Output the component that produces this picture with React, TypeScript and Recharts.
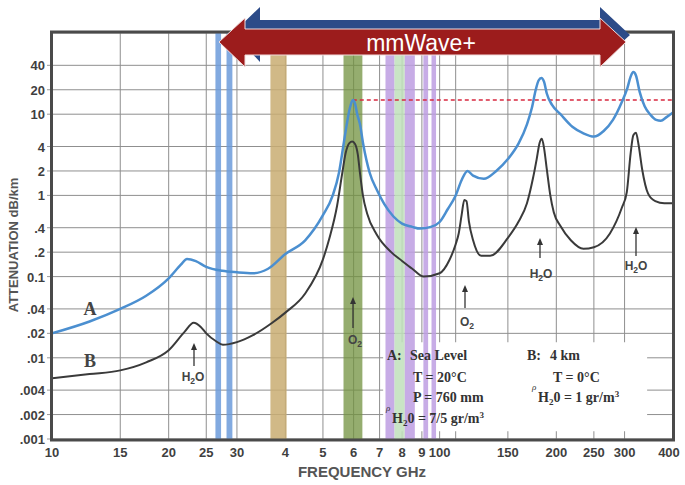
import React from "react";
import {
  LineChart,
  Line,
  XAxis,
  YAxis,
  CartesianGrid,
  ReferenceArea,
  ReferenceLine,
} from "recharts";

// axis ticks (the original labels 40..90 GHz with a single digit)
const xTicks = [10, 15, 20, 25, 30, 40, 50, 60, 70, 80, 90, 100, 110, 150, 200, 250, 300, 400];
const xTickText = ["10", "15", "20", "25", "30", "4", "5", "6", "7", "8", "9", "100", "", "150", "200", "250", "300", "400"];
const yTicks = [0.001, 0.002, 0.004, 0.01, 0.02, 0.04, 0.1, 0.2, 0.4, 1, 2, 4, 10, 20, 40];
const yTickText = [".001", ".002", ".004", ".01", ".02", ".04", "0.1", ".2", ".4", "1", "2", "4", "10", "20", "40"];

// A: sea level
const seaLevelFreq = [
  10, 12.5, 15, 17.5, 20, 21.5, 22.3, 23.5, 25, 27.5, 30, 33, 36, 40, 45, 50, 53, 55, 56.5, 57.6,
  58.7, 59.7, 60.5, 61.3, 62.3, 63.5, 66, 69, 72, 76, 80, 85, 89, 95, 100, 105, 110, 114, 118, 122,
  130, 140, 150, 160, 168, 173, 177, 180, 183, 186, 189, 195, 205, 220, 235, 250, 265, 280, 295, 305,
  311, 316, 321, 328, 338, 350, 362, 372, 385, 400,
];
const seaLevelDb = [
  0.02, 0.028, 0.04, 0.058, 0.095, 0.14, 0.165, 0.155, 0.132, 0.118, 0.113, 0.11, 0.124, 0.19, 0.28, 0.57, 1.0, 1.9, 4.2, 7.5,
  12, 15, 13.5, 10, 7.5, 4.3, 1.9, 1.15, 0.78, 0.55, 0.45, 0.41, 0.39, 0.41, 0.47, 0.68, 1.0, 1.55, 2.0, 1.75,
  1.6, 2.0, 2.8, 4.4, 7.5, 12, 20, 26, 28, 25, 18, 13, 10, 7, 5.8, 5.3, 6.2, 8.5, 14, 21,
  29, 33, 30, 19, 12.5, 9.8, 8.5, 8.3, 9.2, 10.5,
];

// B: 4 km
const highAltFreq = [
  10, 12.5, 15, 17.5, 20, 22, 23.2, 24.2, 25, 26.5, 27.6, 30, 33, 37, 40, 45, 50, 52, 54.4, 56,
  57.2, 58.5, 59.5, 60.5, 61.5, 62.3, 63.4, 65, 68.8, 75, 80, 85, 91, 100, 106, 110, 112, 114, 115.8, 117.3,
  119, 122, 128, 135, 150, 160, 168, 174, 178, 181, 183.5, 186, 189, 193, 197, 205, 218, 235, 250, 275,
  295, 304, 311, 316, 321, 326, 333, 345, 360, 380, 400,
];
const highAltDb = [
  0.0056, 0.0063, 0.007, 0.0088, 0.0124, 0.021, 0.027, 0.024, 0.02, 0.016, 0.0145, 0.0156, 0.019, 0.027, 0.036, 0.062, 0.163, 0.3, 0.75, 1.8,
  3.3, 4.4, 4.6, 4.3, 3.2, 1.9, 1.0, 0.6, 0.33, 0.2, 0.156, 0.125, 0.1, 0.11, 0.16, 0.25, 0.34, 0.58, 0.88, 0.85,
  0.48, 0.28, 0.18, 0.18, 0.3, 0.48, 0.8, 1.6, 2.8, 4.4, 5.0, 3.8, 2.1, 1.0, 0.62, 0.42, 0.28, 0.22, 0.23, 0.34,
  0.7, 1.1, 3.3, 5.5, 5.9, 4.2, 2.1, 1.05, 0.85, 0.8, 0.8,
];

// spectrum bands (GHz)
const bandFrom = [26.4, 28.2, 36.6, 56.5, 72.5, 76.5, 81.3, 90.8, 95.3];
const bandTo = [27.3, 29.2, 40.3, 63.2, 76.5, 81.3, 86.3, 93.4, 97.9];
const bandKind = ["blue", "blue", "tan", "olive", "purple", "green", "purple", "purple", "purple"];

const o2PeakFreq = 59.7;
const o2PeakDb = 15;

const bandFill: Record<string, string> = {
  blue: "#6c9bdb",
  tan: "#c9ad72",
  olive: "#71913f",
  purple: "#bd9de2",
  green: "#c0e0bb",
};

const sans = "'Liberation Sans', Arial, sans-serif";
const serif = "'Liberation Serif', 'DejaVu Serif', serif";

const XTick = (props: any) => {
  const { x, y, payload } = props;
  const i = xTicks.indexOf(payload.value);
  return (
    <text x={Math.min(x, 669)} y={y + 18} textAnchor="middle" fontFamily={sans} fontWeight="bold" fontSize={13} fill="#3f3f3f">
      {xTickText[i]}
    </text>
  );
};

const YTick = (props: any) => {
  const { x, y, payload } = props;
  const i = yTicks.indexOf(payload.value);
  return (
    <text x={x} y={y + 5} textAnchor="end" fontFamily={sans} fontWeight="bold" fontSize={13} fill="#3f3f3f">
      {yTickText[i]}
    </text>
  );
};

function Pointer({ x, tip, tail }: { x: number; tip: number; tail: number }) {
  return (
    <g>
      <line x1={x} y1={tail} x2={x} y2={tip + 5} stroke="#333" strokeWidth={1.3} />
      <polygon points={`${x},${tip} ${x - 3},${tip + 7} ${x + 3},${tip + 7}`} fill="#333" />
    </g>
  );
}

function Molecule({ x, y, base, sub, tail }: { x: number; y: number; base: string; sub: string; tail?: string }) {
  return (
    <text x={x} y={y} textAnchor="middle" fontFamily={sans} fontWeight="bold" fontSize={12} fill="#444">
      {base}
      <tspan fontSize={8.5} dy={3}>{sub}</tspan>
      {tail ? <tspan dy={-3}>{tail}</tspan> : null}
    </text>
  );
}

export default function App() {
  const seaLevel = seaLevelFreq.map((f, i) => ({ f, v: seaLevelDb[i] }));
  const highAlt = highAltFreq.map((f, i) => ({ f, v: highAltDb[i] }));

  return (
    <div style={{ position: "absolute", left: 0, top: 0, width: 685, height: 485, background: "#fff" }}>
      <LineChart width={685} height={485} margin={{ top: 33, right: 12, bottom: 0, left: 0 }}>
        <CartesianGrid stroke="#8f8f8f" strokeWidth={1} />
        <XAxis
          dataKey="f"
          type="number"
          scale="log"
          domain={[10, 400]}
          ticks={xTicks}
          allowDataOverflow
          height={46}
          tickSize={0}
          tickMargin={0}
          axisLine={false}
          tickLine={false}
          tick={<XTick />}
          interval={0}
        />
        <YAxis
          type="number"
          scale="log"
          domain={[0.001, 100]}
          ticks={yTicks}
          allowDataOverflow
          width={52}
          tickSize={5}
          tickMargin={2}
          axisLine={false}
          tickLine={{ stroke: "#999" }}
          tick={<YTick />}
          interval={0}
        />
        <ReferenceArea x1={71.5} x2={343} y1={0.00125} y2={0.0155} fill="#fff" fillOpacity={1} stroke="none" />
        {bandFrom.map((from, i) => (
          <ReferenceArea
            key={i}
            x1={from}
            x2={bandTo[i]}
            y1={0.001}
            y2={100}
            fill={bandFill[bandKind[i]]}
            fillOpacity={bandKind[i] === "olive" ? 0.75 : 0.85}
            stroke="none"
          />
        ))}
        <ReferenceLine
          segment={[
            { x: o2PeakFreq, y: o2PeakDb },
            { x: 400, y: o2PeakDb },
          ]}
          stroke="#d8283f"
          strokeWidth={1.5}
          strokeDasharray="4 3"
        />
        <Line
          data={seaLevel}
          dataKey="v"
          type="monotone"
          stroke="#4b8fd0"
          strokeWidth={2.5}
          dot={false}
          isAnimationActive={false}
        />
        <Line
          data={highAlt}
          dataKey="v"
          type="monotone"
          stroke="#3a3a3a"
          strokeWidth={2}
          dot={false}
          isAnimationActive={false}
        />
      </LineChart>

      <svg width={685} height={485} style={{ position: "absolute", left: 0, top: 0, pointerEvents: "none" }}>
        <rect x={51.5} y={32} width={622} height={408} fill="none" stroke="#4a4a4a" strokeWidth={3} />

        <text
          transform="translate(18,245) rotate(-90)"
          textAnchor="middle"
          fontFamily={sans}
          fontWeight="bold"
          fontSize={13}
          fill="#555"
        >
          ATTENUATION dB/km
        </text>
        <text x={362} y={477} textAnchor="middle" fontFamily={sans} fontWeight="bold" fontSize={15} fill="#555">
          FREQUENCY GHz
        </text>

        <polygon
          points="233,33 260,7 260,20 600,20 600,7 630,35 600,62 600,50 260,50 260,62"
          fill="#2c4b88"
        />
        <polygon
          points="219,42 245,18 245,29 600,29 600,18 626,42 600,67 600,55 245,55 245,67"
          fill="#9c1c1c"
          stroke="#f2dcdc"
          strokeWidth={1}
        />
        <text x={421} y={51} textAnchor="middle" fontFamily={sans} fontSize={23} fill="#fff">
          mmWave+
        </text>

        <text x={90} y={315} textAnchor="middle" fontFamily={serif} fontWeight="bold" fontSize={18} fill="#444">A</text>
        <text x={90} y={367} textAnchor="middle" fontFamily={serif} fontWeight="bold" fontSize={18} fill="#444">B</text>

        <Pointer x={194} tip={343} tail={366} />
        <Molecule x={193} y={381} base="H" sub="2" tail="O" />
        <Pointer x={353} tip={297} tail={328} />
        <Molecule x={355} y={344} base="O" sub="2" />
        <Pointer x={465} tip={285} tail={308} />
        <Molecule x={467} y={326} base="O" sub="2" />
        <Pointer x={540} tip={238} tail={258} />
        <Molecule x={541} y={278} base="H" sub="2" tail="O" />
        <Pointer x={636} tip={227} tail={256} />
        <Molecule x={636} y={270} base="H" sub="2" tail="O" />

        <g fontFamily={serif} fontWeight="bold" fontSize={14} fill="#333">
          <text x={387} y={360}>A:</text>
          <text x={410} y={360}>Sea Level</text>
          <text x={413} y={382}>T = 20°C</text>
          <text x={413} y={402}>P = 760 mm</text>
          <text x={386} y={411} fontSize={9} fontStyle="italic" fontWeight="normal">ρ</text>
          <text x={392} y={423}>
            H<tspan fontSize={9} dy={3}>2</tspan>
            <tspan dy={-3}>0 = 7/5 gr/m</tspan>
            <tspan fontSize={9} dy={-5}>3</tspan>
          </text>
          <text x={527} y={360}>B:</text>
          <text x={550} y={360}>4 km</text>
          <text x={553} y={382}>T = 0°C</text>
          <text x={532} y={390} fontSize={9} fontStyle="italic" fontWeight="normal">ρ</text>
          <text x={538} y={402}>
            H<tspan fontSize={9} dy={3}>2</tspan>
            <tspan dy={-3}>0 = 1 gr/m</tspan>
            <tspan fontSize={9} dy={-5}>3</tspan>
          </text>
        </g>
      </svg>
    </div>
  );
}
